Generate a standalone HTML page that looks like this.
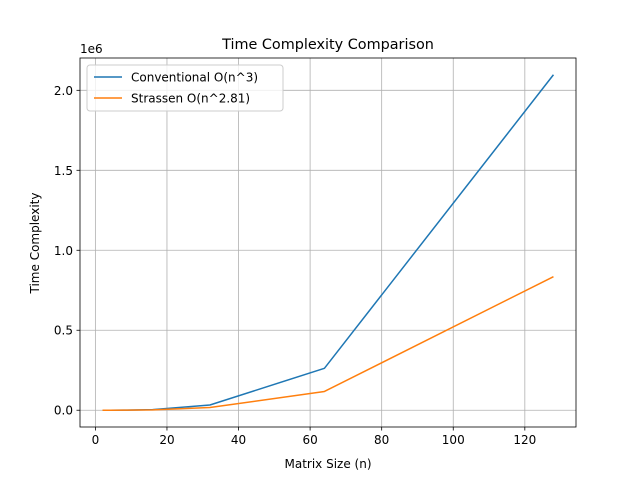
<!DOCTYPE html>
<html><head><meta charset="utf-8"><style>
body{margin:0;background:#fff;font-family:"Liberation Sans","DejaVu Sans",sans-serif;}
svg text{font-family:"DejaVu Sans","Liberation Sans",sans-serif;}
</style></head><body>
<svg id="chart" width="640" height="480" xmlns="http://www.w3.org/2000/svg">
<rect width="640" height="480" fill="#fff"/>
<g id="grid"></g>
<g id="series"></g>
<rect x="80" y="58" width="496" height="369" fill="none" stroke="#000" stroke-width="0.8"/>
<g id="ticks"></g>
<text x="328" y="49" font-size="14.4" text-anchor="middle">Time Complexity Comparison</text>
<text x="328" y="468" font-size="12" text-anchor="middle">Matrix Size (n)</text>
<text x="39" y="243" font-size="12" text-anchor="middle" transform="rotate(-90 39 243)">Time Complexity</text>
<text x="80" y="53" font-size="12">1e6</text>
<g>
<rect x="87" y="65" width="196" height="46" rx="3" fill="#fff" fill-opacity="0.8" stroke="#ccc"/>
<line x1="94" y1="77" x2="122" y2="77" stroke="#1f77b4" stroke-width="1.5"/>
<text x="131" y="81.5" font-size="12">Conventional O(n^3)</text>
<line x1="94" y1="98" x2="122" y2="98" stroke="#ff7f0e" stroke-width="1.5"/>
<text x="131" y="102.5" font-size="12">Strassen O(n^2.81)</text>
</g>
</svg>
<script>
const sizes=[2,4,8,16,32,64,128];
const conventional=[8,64,512,4096,32768,262144,2097152];
const strassen=[7,49,346,2411,16820,117330,835000];
const xTicks=[0,20,40,60,80,100,120];
const yTicks=[0,0.5,1.0,1.5,2.0];
const yTickLabels=["0.0","0.5","1.0","1.5","2.0"];
const L=80,R=576,T=58,B=427;
const xmin=-4.3,xmax=134.3,ymin=-104850,ymax=2202009;
const X=v=>L+(v-xmin)/(xmax-xmin)*(R-L);
const Y=v=>B-(v-ymin)/(ymax-ymin)*(B-T);
const NS="http://www.w3.org/2000/svg";
function mk(tag,attrs,parent,txt){const e=document.createElementNS(NS,tag);for(const k in attrs)e.setAttribute(k,attrs[k]);if(txt!==undefined)e.textContent=txt;document.getElementById(parent).appendChild(e);return e;}
xTicks.forEach(t=>{const x=X(t);
 let g=mk('line',{x1:x,x2:x,y1:T,y2:B,stroke:'#b0b0b0','stroke-width':0.8},'grid');
 
 
 let k=mk('line',{x1:x,x2:x,y1:B,y2:B+3.5,stroke:'#000','stroke-width':0.8},'ticks');
 
 
 let l=mk('text',{x:x,y:B+17,'font-size':12,'text-anchor':'middle'},'ticks',String(t));
 
 
});
yTicks.forEach((t,i)=>{const y=Y(t*1e6);
 let g=mk('line',{x1:L,x2:R,y1:y,y2:y,stroke:'#b0b0b0','stroke-width':0.8},'grid');
 
 
 let k=mk('line',{x1:L-3.5,x2:L,y1:y,y2:y,stroke:'#000','stroke-width':0.8},'ticks');
 
 
 let l=mk('text',{x:L-7,y:y+4.5,'font-size':12,'text-anchor':'end'},'ticks',yTickLabels[i]);
 
 
});
function line(vals,color,name){
 const p=mk('polyline',{points:sizes.map((s,i)=>X(s)+','+Y(vals[i])).join(' '),fill:'none',stroke:color,'stroke-width':1.5,'stroke-linejoin':'round'},'series');
 
 
}
line(conventional,'#1f77b4','conventional-line');
line(strassen,'#ff7f0e','strassen-line');
</script>
</body></html>
